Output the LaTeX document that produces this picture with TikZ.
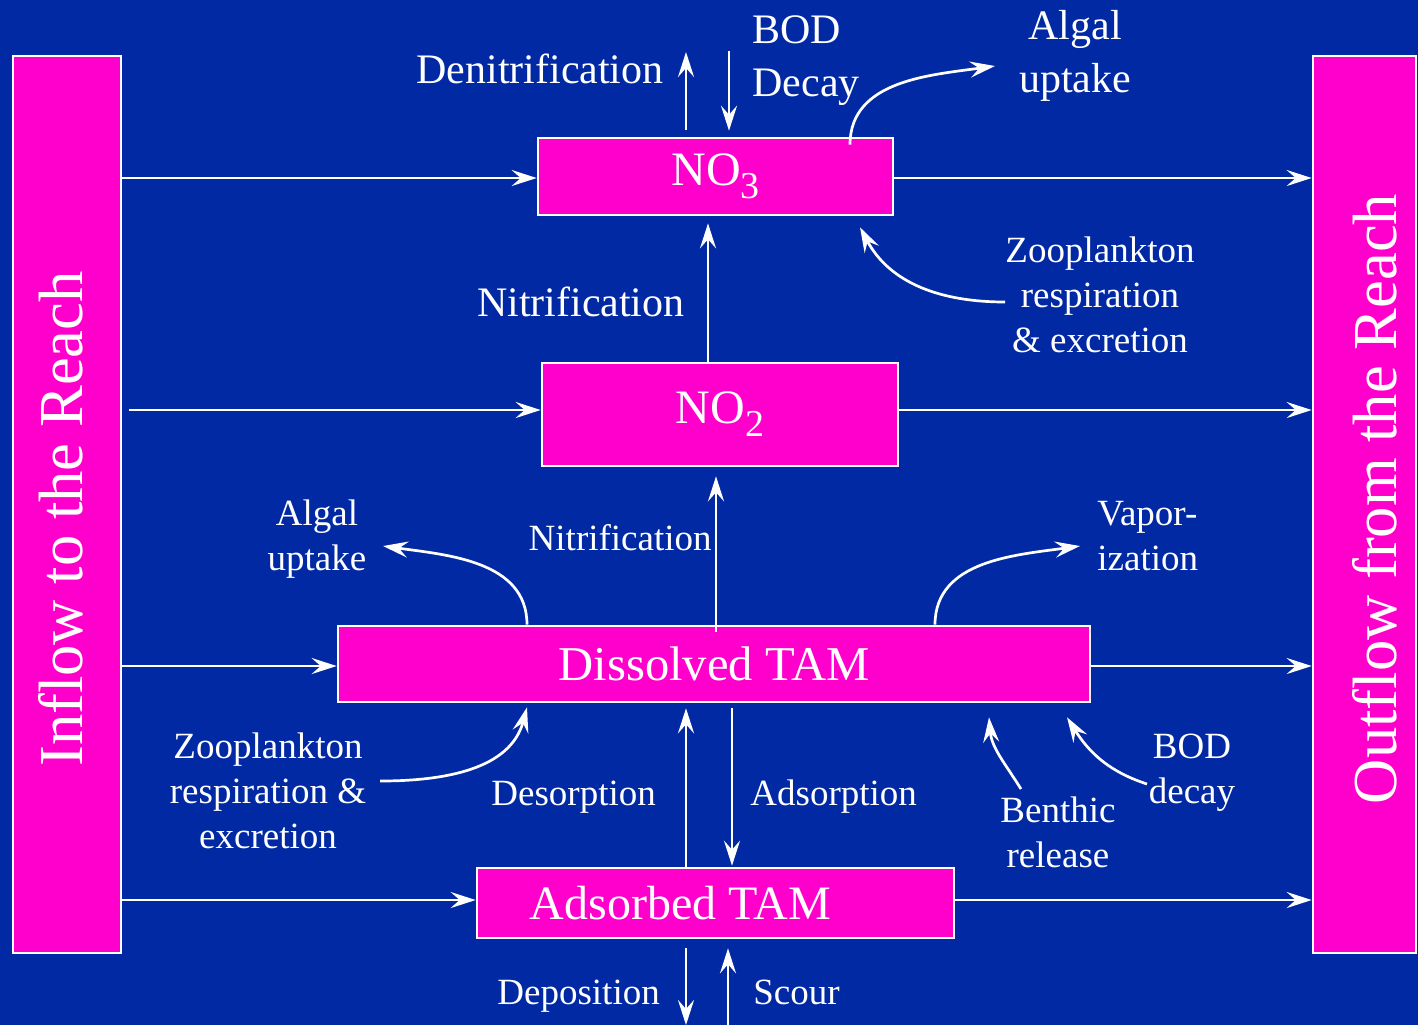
\documentclass[tikz,border=0pt]{standalone}
\usepackage{fontspec}
\setmainfont{Liberation Serif}
\usetikzlibrary{arrows.meta}
\definecolor{deepblue}{RGB}{0,41,163}
\definecolor{hotpink}{RGB}{255,0,204}
\newcommand{\lowsub}[1]{\raisebox{-6.5pt}{\fontsize{19}{19}\selectfont #1}}
\tikzset{
  flow/.style={draw=white, line width=1.35pt, -{Stealth[length=12.5pt,width=8pt,inset=4.5pt]}},
  pool/.style={draw=white, line width=1.3pt, fill=hotpink, text=white, inner sep=0pt},
  lbl/.style={text=white, inner sep=0pt},
  big/.style={lbl, font=\fontsize{21}{26.5}\selectfont},
  small/.style={lbl, font=\fontsize{18.5}{22.3}\selectfont},
  side/.style={lbl, rotate=90, anchor=base, font=\fontsize{31.3}{37}\selectfont},
}
\begin{document}
\begin{tikzpicture}[x=0.5pt,y=-0.5pt]
% background
\fill[deepblue] (0,0) rectangle (1418,1025);
\useasboundingbox (0,0) rectangle (1418,1025);

% reach boundaries
\node[pool, minimum width=54pt, minimum height=448.5pt] (inflow) at (67,504.5) {};
\node[side] (inflowtxt) at (82,519) {Inflow to the Reach};
\node[pool, minimum width=51.5pt, minimum height=448.5pt] (outflow) at (1364.5,504.5) {};
\node[side] (outflowtxt) at (1396,499) {Outflow from the Reach};

% nitrogen pools
\node[pool, minimum width=177.5pt, minimum height=38.5pt, font=\fontsize{24}{28}\selectfont] (no3) at (715.5,176.5) {NO\lowsub{3}};
\node[pool, minimum width=178pt, minimum height=51.5pt, font=\fontsize{24}{28}\selectfont] (no2) at (720,414.5) {NO\lowsub{2}};
\node[pool, minimum width=376pt, minimum height=38pt, font=\fontsize{24.3}{30}\selectfont] (dis) at (714,664) {Dissolved TAM};
\node[pool, minimum width=238.5pt, minimum height=35pt,
      label={[lbl, font=\fontsize{24}{28}\selectfont, xshift=-17.5pt]center:Adsorbed TAM}] (ads) at (715.5,903) {};

% advective transport through the reach
\draw[flow] ([yshift=-0.75pt]inflow.east |- no3.west) -- ([yshift=-0.75pt]no3.west);
\draw[flow] ([yshift=-0.75pt]no3.east) -- ([yshift=-0.75pt]outflow.west |- no3.east);
\draw[flow] ([xshift=3.5pt,yshift=2.25pt]inflow.east |- no2.west) -- ([yshift=2.25pt]no2.west);
\draw[flow] ([yshift=2.25pt]no2.east) -- ([yshift=2.25pt]outflow.west |- no2.east);
\draw[flow] ([yshift=-1pt]inflow.east |- dis.west) -- ([yshift=-1pt]dis.west);
\draw[flow] ([yshift=-1pt]dis.east) -- ([yshift=-1pt]outflow.west |- dis.east);
\draw[flow] ([yshift=1.5pt]inflow.east |- ads.west) -- ([yshift=1.5pt]ads.west);
\draw[flow] ([yshift=1.5pt]ads.east) -- ([yshift=1.5pt]outflow.west |- ads.east);

% NO3 exchanges
\coordinate (denT) at (686,52);
\coordinate (bodT) at (729,51);
\draw[flow] ([yshift=3.5pt]no3.north -| denT) -- (denT);
\draw[flow] (bodT) -- ([yshift=3pt]no3.north -| bodT);
\node[big, anchor=base east] (denit) at (664,83) {Denitrification};
\node[big, anchor=base west, align=left] (bodtop) at (752,96) {BOD\\Decay};

\coordinate (algT) at (995,66);
\draw[flow] ([yshift=-4pt]no3.north -| 850,0) to[out=90,in=188] (algT);
\node[big, anchor=base, align=center] (algtop) at (1075,92) {Algal\\uptake};

\coordinate (zooT) at (1005,302);
\draw[flow] (zooT) to[out=180,in=-62] ([yshift=-5.5pt]no3.south -| 860,0);
\node[small, anchor=base, align=center] (zootop) at (1100,352) {Zooplankton\\respiration\\\& excretion};

% nitrification steps
\draw[flow] (no2.north -| 708,0) -- ([yshift=-3.5pt]no3.south -| 708,0);
\node[big, anchor=base east] (nit1) at (685,316) {Nitrification};
\draw[flow] ([yshift=-3.5pt]dis.north -| 716,0) -- ([yshift=-4.5pt]no2.south -| 716,0);
\node[small, anchor=base east] (nit2) at (712,550) {Nitrification};

% dissolved TAM exchanges
\coordinate (algL) at (383,546);
\draw[flow] (dis.north -| 527,0) to[out=90,in=-8] (algL);
\node[small, anchor=base, align=center] (alglow) at (317,570) {Algal\\uptake};

\coordinate (vapR) at (1080,546);
\draw[flow] (dis.north -| 935,0) to[out=90,in=188] (vapR);
\node[small, anchor=base west, align=left] (vap) at (1097,570) {Vapor-\\ization};

\coordinate (zooL) at (380,781);
\draw[flow] (zooL) to[out=0,in=-105] ([yshift=-2pt]dis.south -| 527,0);
\node[small, anchor=base, align=center] (zoolow) at (268,848) {Zooplankton\\respiration \&\\excretion};

\coordinate (benB) at (1021,789);
\draw[flow] (benB) to[out=122,in=-85] ([yshift=-7pt]dis.south -| 989,0);
\node[small, anchor=base, align=center] (benth) at (1058,867) {Benthic\\release};

\coordinate (bodB) at (1147,784);
\draw[flow] (bodB) to[out=162,in=-58] ([yshift=-7pt]dis.south -| 1067,0);
\node[small, anchor=base, align=center] (bodlow) at (1192,803) {BOD\\decay};

% sorption
\draw[flow] (ads.north -| 686,0) -- ([yshift=-2.5pt]dis.south -| 686,0);
\draw[flow] ([yshift=-2.5pt]dis.south -| 732,0) -- ([yshift=0.5pt]ads.north -| 732,0);
\node[small, anchor=base west] (desorp) at (491,805) {Desorption};
\node[small, anchor=base west] (adsorp) at (750,805) {Adsorption};

% bed exchange
\coordinate (depB) at (686,1025);
\coordinate (scoB) at (728,1025);
\draw[flow] ([yshift=-4.5pt]ads.south -| depB) -- (depB);
\draw[flow] (scoB) -- ([yshift=-4.5pt]ads.south -| scoB);
\node[small, anchor=base west] (depo) at (497,1004) {Deposition};
\node[small, anchor=base west] (scour) at (753,1004) {Scour};
\end{tikzpicture}
\end{document}
